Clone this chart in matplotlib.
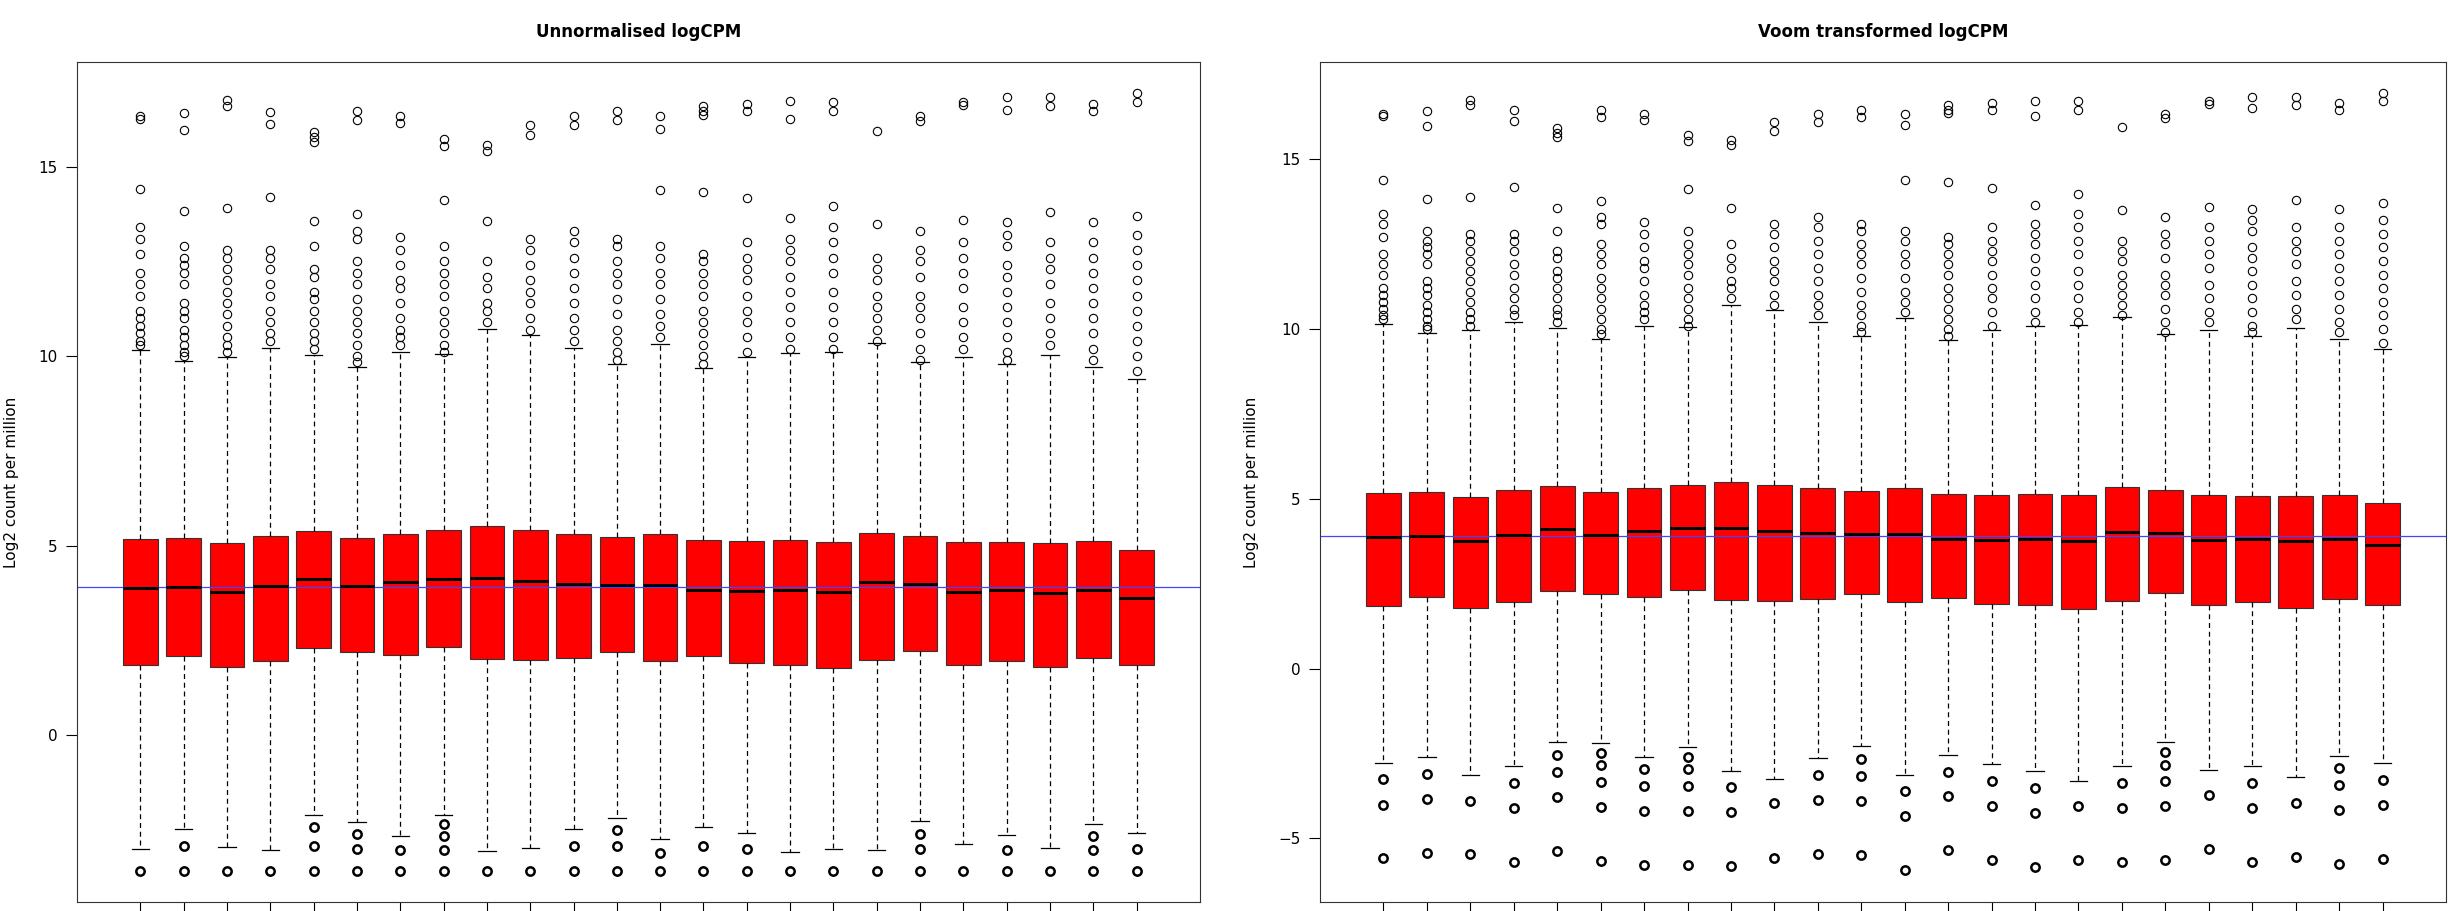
import matplotlib
matplotlib.use("Agg")
import matplotlib.pyplot as plt

# --- box statistics (24 samples, shared upper part) ---
q1 = [1.84, 2.10, 1.79, 1.95, 2.29, 2.19, 2.12, 2.32, 2.01, 1.98, 2.04, 2.19,
      1.95, 2.09, 1.90, 1.86, 1.76, 1.99, 2.22, 1.86, 1.95, 1.79, 2.04, 1.86]
med = [3.88, 3.91, 3.77, 3.94, 4.11, 3.94, 4.05, 4.13, 4.14, 4.06, 4.00, 3.97,
       3.96, 3.83, 3.80, 3.82, 3.77, 4.03, 3.99, 3.79, 3.82, 3.76, 3.83, 3.63]
q3 = [5.18, 5.21, 5.06, 5.26, 5.38, 5.21, 5.32, 5.41, 5.51, 5.41, 5.32, 5.23,
      5.31, 5.14, 5.12, 5.15, 5.11, 5.34, 5.26, 5.11, 5.09, 5.08, 5.12, 4.89]
whis_hi = [10.15, 9.88, 9.97, 10.21, 10.03, 9.72, 10.10, 10.05, 10.71, 10.55, 10.21, 9.79,
           10.31, 9.69, 9.97, 10.09, 10.11, 10.35, 9.85, 9.98, 9.80, 10.03, 9.72, 9.40]

# unnormalised lower whiskers / outliers
whis_lo_raw = [-2.99, -2.48, -2.94, -3.02, -2.10, -2.29, -2.67, -2.10, -3.05, -2.98, -2.48, -2.18,
               -2.73, -2.42, -2.58, -3.07, -3.00, -3.02, -2.27, -2.88, -2.62, -2.98, -2.35, -2.58]
low_out_raw = [
    [-3.57], [-2.93, -3.57], [-3.57], [-3.57], [-2.42, -2.91, -3.57], [-2.61, -3.00, -3.57],
    [-3.04, -3.57], [-2.35, -2.65, -3.04, -3.57], [-3.57], [-3.57], [-2.93, -3.57],
    [-2.50, -2.93, -3.57], [-3.10, -3.57], [-2.91, -3.57], [-3.00, -3.57], [-3.57], [-3.57],
    [-3.57], [-2.61, -3.00, -3.57], [-3.57], [-3.02, -3.57], [-3.57], [-2.65, -3.04, -3.57],
    [-2.99, -3.57],
]

# voom lower whiskers / outliers
whis_lo_voom = [-2.77, -2.60, -3.13, -2.88, -2.17, -2.19, -2.60, -2.31, -3.00, -3.24, -2.62, -2.29,
                -3.13, -2.53, -2.81, -3.01, -3.30, -2.88, -2.16, -2.98, -2.86, -3.20, -2.57, -2.77]
low_out_voom = [
    [-3.25, -4.00, -5.58], [-3.10, -3.84, -5.43], [-3.89, -5.46], [-3.37, -4.11, -5.68],
    [-2.55, -3.03, -3.77, -5.36], [-2.48, -2.84, -3.34, -4.08, -5.67], [-2.96, -3.46, -4.18, -5.77],
    [-2.59, -2.96, -3.46, -4.18, -5.77], [-3.48, -4.21, -5.80], [-3.97, -5.57],
    [-3.13, -3.87, -5.46], [-2.65, -3.17, -3.90, -5.48], [-3.61, -4.35, -5.94],
    [-3.03, -3.75, -5.34], [-3.30, -4.04, -5.63], [-3.51, -4.25, -5.84], [-4.04, -5.63],
    [-3.36, -4.11, -5.68], [-2.45, -2.83, -3.30, -4.04, -5.63], [-3.72, -5.31],
    [-3.36, -4.11, -5.68], [-3.96, -5.55], [-2.93, -3.42, -4.16, -5.74], [-3.27, -4.00, -5.60],
]

high_out = [
    [16.33, 16.26, 14.4, 13.4, 13.1, 12.7, 12.2, 11.9, 11.6, 11.2, 11.0, 10.8, 10.6, 10.4, 10.3],
    [16.41, 15.97, 13.82, 12.9, 12.6, 12.4, 12.2, 11.9, 11.4, 11.2, 11.0, 10.7, 10.5, 10.3, 10.1, 10.0],
    [16.75, 16.6, 13.9, 12.8, 12.6, 12.3, 12.0, 11.7, 11.4, 11.1, 10.8, 10.5, 10.3, 10.1],
    [16.44, 16.13, 14.19, 12.8, 12.6, 12.3, 11.9, 11.6, 11.2, 10.9, 10.6, 10.4],
    [15.92, 15.77, 15.64, 13.56, 12.9, 12.3, 12.1, 11.7, 11.5, 11.2, 10.9, 10.6, 10.4, 10.2],
    [16.46, 16.23, 13.76, 13.3, 13.1, 12.5, 12.2, 11.9, 11.5, 11.2, 10.9, 10.6, 10.3, 10.0, 9.85],
    [16.33, 16.15, 13.15, 12.8, 12.4, 12.0, 11.8, 11.4, 11.0, 10.7, 10.5, 10.3],
    [15.72, 15.54, 14.13, 12.9, 12.5, 12.2, 11.9, 11.6, 11.2, 10.9, 10.6, 10.3, 10.1],
    [15.57, 15.41, 13.57, 12.5, 12.1, 11.8, 11.4, 11.2, 10.9],
    [16.1, 15.84, 13.1, 12.8, 12.4, 12.0, 11.7, 11.4, 11.0, 10.7],
    [16.33, 16.1, 13.3, 13.0, 12.6, 12.2, 11.8, 11.4, 11.0, 10.7, 10.4],
    [16.46, 16.23, 13.1, 12.9, 12.5, 12.2, 11.9, 11.5, 11.1, 10.7, 10.4, 10.1, 9.9],
    [16.33, 16.0, 14.38, 12.9, 12.6, 12.2, 11.9, 11.5, 11.1, 10.8, 10.5],
    [16.6, 16.46, 16.35, 14.34, 12.7, 12.5, 12.2, 11.9, 11.6, 11.2, 10.9, 10.6, 10.3, 10.0, 9.8],
    [16.64, 16.46, 14.16, 13.0, 12.6, 12.3, 12.0, 11.6, 11.2, 10.9, 10.5, 10.1],
    [16.72, 16.26, 13.65, 13.1, 12.8, 12.5, 12.1, 11.7, 11.3, 10.9, 10.5, 10.2],
    [16.7, 16.46, 13.97, 13.4, 13.0, 12.6, 12.2, 11.7, 11.3, 10.9, 10.5, 10.2],
    [15.94, 13.5, 12.6, 12.3, 12.0, 11.6, 11.3, 11.0, 10.7, 10.4],
    [16.33, 16.21, 13.3, 12.8, 12.5, 12.1, 11.6, 11.3, 11.0, 10.6, 10.2, 9.9],
    [16.7, 16.63, 13.6, 13.0, 12.6, 12.2, 11.8, 11.3, 10.9, 10.5, 10.2],
    [16.83, 16.5, 13.53, 13.2, 12.9, 12.4, 12.1, 11.7, 11.3, 10.9, 10.5, 10.1, 9.9],
    [16.83, 16.6, 13.8, 13.0, 12.6, 12.3, 11.9, 11.4, 11.0, 10.6, 10.3],
    [16.64, 16.46, 13.54, 13.0, 12.6, 12.2, 11.8, 11.4, 11.0, 10.6, 10.2, 9.9],
    [16.95, 16.7, 13.7, 13.2, 12.8, 12.4, 12.0, 11.6, 11.2, 10.8, 10.4, 10.0, 9.6],
]

median_line = 3.9
titles = ["Unnormalised logCPM", "Voom transformed logCPM"]
ylims = [(-4.40, 17.76), (-6.87, 17.86)]
yticks = [[0, 5, 10, 15], [-5, 0, 5, 10, 15]]


def make_stats(whis_lo):
    stats = []
    for i in range(len(med)):
        stats.append(dict(med=med[i], q1=q1[i], q3=q3[i],
                          whislo=whis_lo[i], whishi=whis_hi[i],
                          fliers=high_out[i]))
    return stats


fig = plt.figure(figsize=(24.56, 9.11), dpi=100)
panels = [
    (fig.add_axes([77 / 2456, 0.0099, 1123 / 2456, 0.922]), whis_lo_raw, low_out_raw),
    (fig.add_axes([1320 / 2456, 0.0099, 1126 / 2456, 0.922]), whis_lo_voom, low_out_voom),
]

for k, (ax, whis_lo, low_out) in enumerate(panels):
    stats = make_stats(whis_lo)
    n = len(stats)
    ax.bxp(stats, positions=range(1, n + 1), widths=0.8, patch_artist=True,
           boxprops=dict(facecolor="red", edgecolor="#333333", lw=0.8),
           medianprops=dict(color="black", lw=2.2),
           whiskerprops=dict(color="black", lw=0.9, ls=(0, (4, 3))),
           capprops=dict(color="black", lw=0.9), capwidths=0.4,
           flierprops=dict(marker="o", markerfacecolor="none", markeredgecolor="black",
                           markersize=6, markeredgewidth=0.8))
    # low outliers overlap heavily in the original, so they render bold
    for i, vals in enumerate(low_out):
        ax.plot([i + 1] * len(vals), vals, ls="none", marker="o", markerfacecolor="none",
                markeredgecolor="black", markersize=6, markeredgewidth=1.8)
    ax.axhline(median_line, color="#4444ff", lw=0.9)
    ax.set_xlim(0.5 - 0.04 * n, n + 0.5 + 0.04 * n)
    ax.set_ylim(*ylims[k])
    ax.set_yticks(yticks[k])
    ax.set_xticks(range(1, n + 1))
    ax.set_xticklabels([])
    ax.tick_params(axis="x", length=12, width=0.8)
    ax.tick_params(axis="y", length=8, width=0.8, labelsize=11, pad=6)
    for s in ax.spines.values():
        s.set_linewidth(0.8)
        s.set_color("#333333")
    ax.set_ylabel("Log2 count per million", fontsize=11, labelpad=14)
    ax.set_title(titles[k], fontsize=12, fontweight="bold", pad=18)

fig.savefig("out.png", dpi=100)
